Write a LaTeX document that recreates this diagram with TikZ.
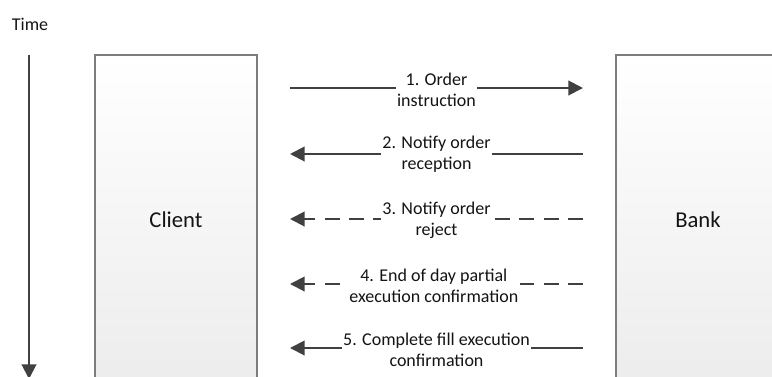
\documentclass[tikz,border=0pt]{standalone}
\usepackage{fontspec}
\setmainfont{Carlito}
\usetikzlibrary{arrows.meta}
\definecolor{arrowgray}{RGB}{64,64,64}
\definecolor{boxline}{RGB}{125,125,125}
\definecolor{boxbottom}{RGB}{236,236,236}
\definecolor{txt}{RGB}{20,20,20}
\begin{document}
\begin{tikzpicture}[x=0.75pt,y=-0.75pt,
  box/.style={draw=boxline,line width=0.9pt,top color=white,bottom color=boxbottom,
    minimum width=121.5pt,minimum height=247.5pt,inner sep=0pt,text=txt,
    font=\fontsize{17}{20}\selectfont},
  msg/.style={draw=arrowgray,line width=1.5pt,-{Triangle[length=11pt,width=11pt]}},
  dmsg/.style={msg,dash pattern=on 11.25pt off 7pt},
  lbl/.style={fill=white,align=center,inner xsep=1pt,inner ysep=0pt,text=txt,
    font=\fontsize{13.5}{15.75}\selectfont}]
\useasboundingbox (0,0) rectangle (772,376);
\clip (0,0) rectangle (772,376);
% time axis
\node[text=txt,font=\fontsize{13.5}{15.75}\selectfont] (time) at (30,24) {Time};
\coordinate (t0) at (29,55);
\coordinate (t1) at (29,379);
\draw[msg] (t0) -- (t1);
% participants
\node[box] (client) at (176,220) {Client};
\node[box,minimum width=123pt] (bank) at (698,220) {Bank};
% message end points
\coordinate (l1) at (290,88);  \coordinate (r1) at (583,88);
\coordinate (l2) at (290,154); \coordinate (r2) at (583,154);
\coordinate (l3) at (290,219); \coordinate (r3) at (583,219);
\coordinate (l4) at (290,284); \coordinate (r4) at (583,284);
\coordinate (l5) at (290,348); \coordinate (r5) at (583,348);
% messages
\draw[msg] (l1) -- node[lbl,yshift=-1.5pt] (m1) {1. Order\\instruction} (r1);
\draw[msg] (r2) -- node[lbl] (m2) {2. Notify order\\reception} (l2);
\draw[dmsg] (r3) -- node[lbl,yshift=-1pt] (m3) {3. Notify order\\reject} (l3);
\draw[dmsg] (r4) -- node[lbl,xshift=-2pt,yshift=-1pt] (m4) {4. End of day partial\\execution confirmation} (l4);
\draw[msg] (r5) -- node[lbl,yshift=-1pt] (m5) {5. Complete fill execution\\confirmation} (l5);
\end{tikzpicture}
\end{document}
